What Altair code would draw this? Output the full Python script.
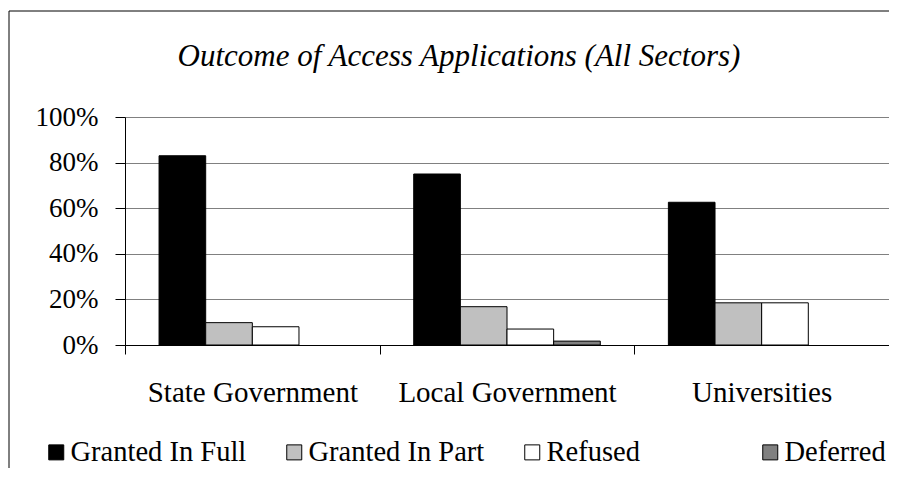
import altair as alt
import pandas as pd

title_text = ["Outcome of Access Applications (All Sectors)"]
categories = ["State Government", "Local Government", "Universities"]
series = ["Granted In Full", "Granted In Part", "Refused", "Deferred"]
colors = ["#000000", "#C0C0C0", "#FFFFFF", "#808080"]
granted_full = [0.83, 0.75, 0.626]
granted_part = [0.098, 0.168, 0.185]
refused = [0.08, 0.07, 0.185]
deferred = [0.0, 0.017, 0.0]
y_ticks = [0, 0.2, 0.4, 0.6, 0.8, 1.0]

rows = []
for i, c in enumerate(categories):
    for s, vals in zip(series, [granted_full, granted_part, refused, deferred]):
        rows.append({"Sector": c, "Outcome": s, "Share": vals[i]})
df = pd.DataFrame(rows)

FONT = "Liberation Serif"

bars = alt.Chart(df).transform_filter("datum.Share > 0").mark_bar(
    stroke="black", strokeWidth=1
).encode(
    x=alt.X("Sector:N", sort=categories, title=None,
            scale=alt.Scale(domain=categories, paddingInner=0, paddingOuter=0),
            axis=alt.Axis(labelAngle=0, tickBand="extent", tickSize=9,
                          labelPadding=24, labelFont=FONT, labelFontSize=29,
                          labelColor="black", labelLimit=600,
                          domainColor="black", tickColor="black", grid=False)),
    xOffset=alt.XOffset("Outcome:N", sort=series,
                        scale=alt.Scale(domain=series, paddingInner=0, paddingOuter=0.73)),
    y=alt.Y("Share:Q", title=None,
            scale=alt.Scale(domain=[0, 1], nice=False),
            axis=alt.Axis(values=y_ticks, format=".0%", tickSize=10, labelPadding=17,
                          labelFont=FONT, labelFontSize=27, labelColor="black",
                          domainColor="black", tickColor="black",
                          gridColor="#808080", gridWidth=1)),
    fill=alt.Fill("Outcome:N", sort=series,
                  scale=alt.Scale(domain=series, range=colors),
                  legend=alt.Legend(orient="none", legendX=-83, legendY=321,
                                    direction="horizontal", columns=4, gridAlign="all",
                                    title=None, symbolType="square", symbolSize=225,
                                    symbolStrokeColor="black", symbolStrokeWidth=1,
                                    labelFont=FONT, labelFontSize=28.5, labelColor="black",
                                    columnPadding=33, labelOffset=0, labelLimit=400)),
)

title = alt.Chart(pd.DataFrame({"t": title_text})).mark_text(
    font=FONT, fontStyle="italic", fontSize=31, color="black",
    align="center", baseline="middle"
).encode(text="t:N", x=alt.value(334), y=alt.value(-60))

border = alt.Chart(alt.Data(values=[{}])).mark_rect(
    filled=False, stroke="black", strokeWidth=1, fill=None
).encode(
    x=alt.value(-116), x2=alt.value(800), y=alt.value(-106), y2=alt.value(400)
)

chart = alt.layer(border, title, bars).properties(
    width=764, height=228,
    padding={"left": 117, "top": 109, "right": 0, "bottom": 123},
    autosize=alt.AutoSizeParams(type="none"),
).configure_view(stroke="#808080", strokeWidth=1).configure(background="white")

chart.save("out.html", embed_options={"renderer": "svg", "actions": False})
